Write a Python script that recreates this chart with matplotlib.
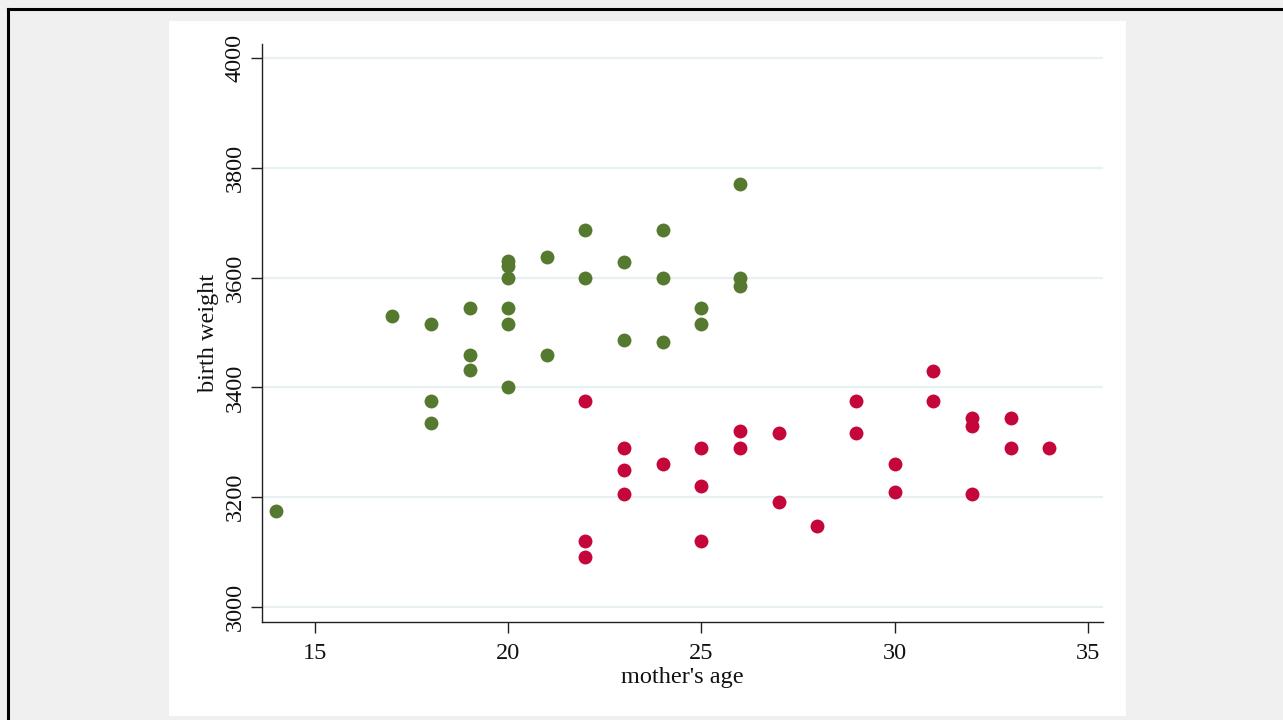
import matplotlib
matplotlib.use('Agg')
import matplotlib.pyplot as plt
from matplotlib.lines import Line2D
from matplotlib.patches import Rectangle

# mother's age / birth weight, two groups
green_age = [14, 17, 18, 18, 18, 19, 19, 19, 20, 20, 20, 20, 20, 20, 21, 21,
             22, 22, 23, 23, 24, 24, 24, 25, 25, 26, 26, 26]
green_wt = [3175, 3530, 3515, 3375, 3335, 3545, 3459, 3432, 3630, 3622, 3600, 3545, 3515, 3400, 3638, 3459,
            3687, 3600, 3628, 3486, 3687, 3600, 3483, 3545, 3515, 3770, 3600, 3585]

red_age = [22, 22, 22, 23, 23, 23, 24, 25, 25, 25, 26, 26, 27, 27, 28,
           29, 29, 30, 30, 31, 31, 32, 32, 32, 33, 33, 34]
red_wt = [3375, 3120, 3091, 3290, 3250, 3205, 3260, 3290, 3220, 3120, 3321, 3290, 3317, 3191, 3147,
          3375, 3317, 3260, 3209, 3430, 3375, 3345, 3330, 3205, 3345, 3290, 3290]

xticks = [15, 20, 25, 30, 35]
yticks = [3000, 3200, 3400, 3600, 3800, 4000]

plt.rcParams['font.family'] = ['Liberation Serif', 'DejaVu Serif']

fig = plt.figure(figsize=(12.83, 7.2), dpi=100)
fig.patch.set_facecolor('#f0f0f0')

# white plot region and outer frame (drawn behind the axes)
panel = Rectangle((168 / 1283, 1 - 716 / 720), 958 / 1283, 696 / 720,
                  transform=fig.transFigure, facecolor='white',
                  edgecolor='#eaf1f1', linewidth=0.8, zorder=-5)
fig.add_artist(panel)
fig.add_artist(Line2D([0.0062, 1.05], [1 - 8.5 / 720, 1 - 8.5 / 720], transform=fig.transFigure,
                      color='black', linewidth=2.2, zorder=-4))
fig.add_artist(Line2D([0.0062, 0.0062], [-0.05, 1 - 8.5 / 720], transform=fig.transFigure,
                      color='black', linewidth=2.2, zorder=-4))

ax = fig.add_axes([262 / 1283, 1 - 622 / 720, 841 / 1283, 578 / 720])
ax.set_facecolor('none')
ax.set_zorder(2)

ax.scatter(green_age, green_wt, s=100, color='#557a2f', linewidths=0, zorder=3)
ax.scatter(red_age, red_wt, s=100, color='#c4063a', linewidths=0, zorder=3)

ax.set_xlim(13.63, 35.39)
ax.set_ylim(2972.7, 4025.5)
ax.set_xticks(xticks)
ax.set_yticks(yticks)
ax.set_yticklabels([str(v) for v in yticks], rotation=90, va='center')

for v in yticks:
    ax.axhline(v, color='#e8f0f2', linewidth=1.6, zorder=1)

ax.spines['top'].set_visible(False)
ax.spines['right'].set_visible(False)
for s in ['left', 'bottom']:
    ax.spines[s].set_color('#222222')
    ax.spines[s].set_linewidth(1.0)

ax.tick_params(axis='both', direction='out', length=8, width=1, color='#222222',
               labelsize=17.5, labelcolor='#111111')
ax.tick_params(axis='x', pad=7)
ax.tick_params(axis='y', pad=4)

ax.set_xlabel("mother's age", fontsize=17.5, color='#111111', labelpad=2)
ax.set_ylabel('birth weight', fontsize=17.5, color='#111111', labelpad=4)

fig.savefig('out.png', dpi=100, facecolor=fig.get_facecolor())
